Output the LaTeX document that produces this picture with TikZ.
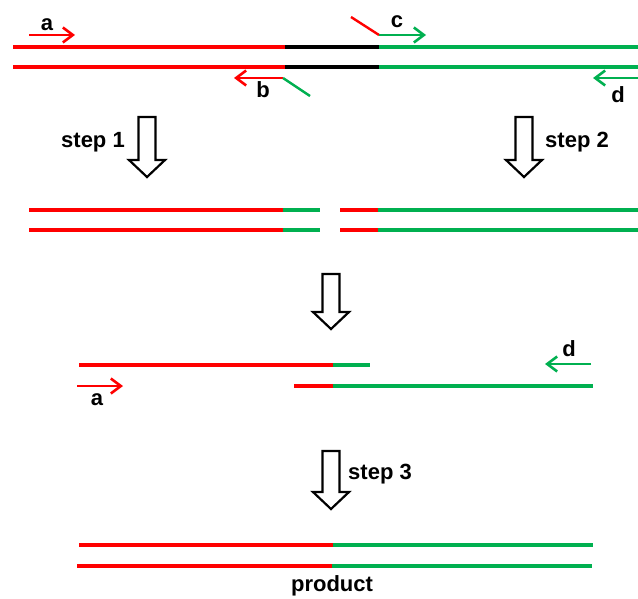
\documentclass[tikz,border=0pt]{standalone}
\usepackage{fontspec}
\setmainfont{Liberation Sans}
\usetikzlibrary{arrows.meta}
\definecolor{dnared}{RGB}{255,0,0}
\definecolor{dnagreen}{RGB}{0,176,80}
\begin{document}
\begin{tikzpicture}[x=1pt,y=-1pt,
  strand/.style={line width=3.8pt},
  primer/.style={line width=2.6pt,-{Straight Barb[length=10pt,width=15pt]}},
  tail/.style={line width=2.4pt},
  lbl/.style={inner sep=0pt,font=\fontsize{22}{26}\selectfont\bfseries},
  downarrow/.pic={
    \draw[line width=2.2pt,miter limit=10,fill=white]
      (0,0) -- (-18,-17) -- (-8.5,-17) -- (-8.5,-#1) -- (8.5,-#1)
      -- (8.5,-17) -- (18,-17) -- cycle;
  }]
\useasboundingbox (0,0) rectangle (638,599);

% ---- template: two strands with a black overlap region
\coordinate (t1L) at (13,47);  \coordinate (t1R) at (285,47);
\coordinate (t1B) at (379,47); \coordinate (t1E) at (638,47);
\coordinate (t2L) at (13,67);  \coordinate (t2R) at (285,67);
\coordinate (t2B) at (379,67); \coordinate (t2E) at (638,67);
\draw[strand,dnared]   (t1L) -- (t1R);
\draw[strand,black]    (t1R) -- (t1B);
\draw[strand,dnagreen] (t1B) -- (t1E);
\draw[strand,dnared]   (t2L) -- (t2R);
\draw[strand,black]    (t2R) -- (t2B);
\draw[strand,dnagreen] (t2B) -- (t2E);

% primers a, b, c, d
\coordinate (aS) at (29,35);  \coordinate (aE) at (75,35);
\draw[primer,dnared] (aS) -- (aE);
\node[lbl] (la) at (47,25) {a};

\coordinate (bS) at (283,78); \coordinate (bE) at (234,78);
\coordinate (bT) at (310,96);
\draw[primer,dnared] (bS) -- (bE);
\draw[tail,dnagreen] (bS) -- (bT);
\node[lbl] (lb) at (263,90) {b};

\coordinate (cT) at (351,17); \coordinate (cS) at (379,35);
\coordinate (cE) at (426,35);
\draw[tail,dnared] (cT) -- (cS);
\draw[primer,dnagreen] (cS) -- (cE);
\node[lbl] (lc) at (397,22) {c};

\coordinate (dS) at (638,78); \coordinate (dE) at (593,78);
\draw[primer,dnagreen] (dS) -- (dE);
\node[lbl] (ld) at (618,95) {d};

% step 1 and step 2
\pic at (147,177) {downarrow=60};
\node[lbl] (s1) at (93,142) {step 1};
\pic at (524,177) {downarrow=60};
\node[lbl] (s2) at (577,142) {step 2};

% two separate PCR products
\coordinate (p1L) at (29,210);  \coordinate (p1M) at (283,210);
\coordinate (p1R) at (320,210);
\coordinate (p2L) at (29,230);  \coordinate (p2M) at (283,230);
\coordinate (p2R) at (320,230);
\draw[strand,dnared]   (p1L) -- (p1M);
\draw[strand,dnagreen] (p1M) -- (p1R);
\draw[strand,dnared]   (p2L) -- (p2M);
\draw[strand,dnagreen] (p2M) -- (p2R);

\coordinate (q1L) at (340,210); \coordinate (q1M) at (378,210);
\coordinate (q1R) at (638,210);
\coordinate (q2L) at (340,230); \coordinate (q2M) at (378,230);
\coordinate (q2R) at (638,230);
\draw[strand,dnared]   (q1L) -- (q1M);
\draw[strand,dnagreen] (q1M) -- (q1R);
\draw[strand,dnared]   (q2L) -- (q2M);
\draw[strand,dnagreen] (q2M) -- (q2R);

% annealed overlap
\pic at (331,329) {downarrow=55};
\coordinate (m1L) at (79,365);  \coordinate (m1M) at (333,365);
\coordinate (m1R) at (370,365);
\coordinate (m2L) at (294,386); \coordinate (m2M) at (333,386);
\coordinate (m2R) at (593,386);
\draw[strand,dnared]   (m1L) -- (m1M);
\draw[strand,dnagreen] (m1M) -- (m1R);
\draw[strand,dnared]   (m2L) -- (m2M);
\draw[strand,dnagreen] (m2M) -- (m2R);

\coordinate (maS) at (77,386);  \coordinate (maE) at (123,386);
\draw[primer,dnared] (maS) -- (maE);
\node[lbl] (mla) at (97,400) {a};
\coordinate (mdS) at (591,364); \coordinate (mdE) at (545,364);
\draw[primer,dnagreen] (mdS) -- (mdE);
\node[lbl] (mld) at (569,349) {d};

% step 3 and fused product
\pic at (331,509) {downarrow=58};
\node[lbl] (s3) at (380,474) {step 3};

\coordinate (f1L) at (79,545);  \coordinate (f1M) at (333,545);
\coordinate (f1R) at (593,545);
\coordinate (f2L) at (77,566);  \coordinate (f2M) at (332,566);
\coordinate (f2R) at (592,566);
\draw[strand,dnared]   (f1L) -- (f1M);
\draw[strand,dnagreen] (f1M) -- (f1R);
\draw[strand,dnared]   (f2L) -- (f2M);
\draw[strand,dnagreen] (f2M) -- (f2R);
\node[lbl] (prod) at (332,586) {product};
\end{tikzpicture}
\end{document}
